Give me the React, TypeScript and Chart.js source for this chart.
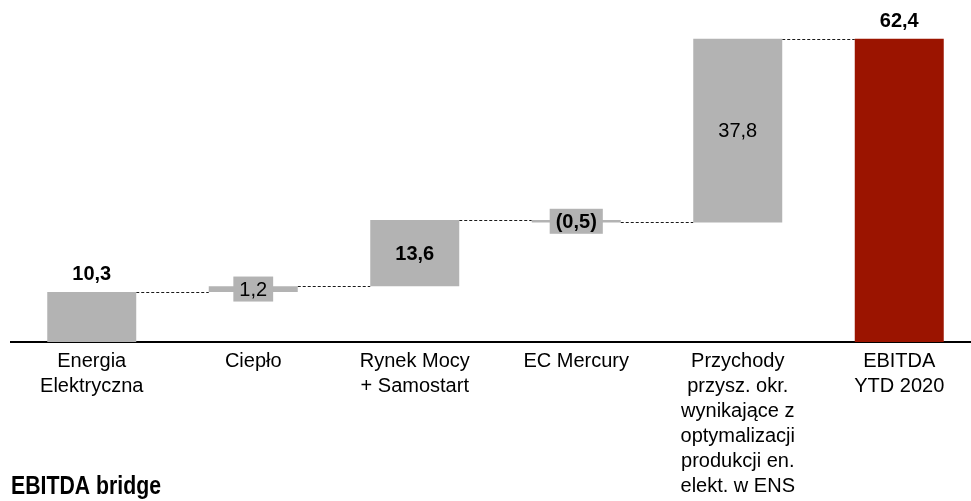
import React, { useEffect, useRef } from "react";
import { Chart, registerables } from "chart.js";

Chart.register(...registerables);

// ---- data ----
const categories: string[][] = [
  ["Energia", "Elektryczna"],
  ["Ciepło"],
  ["Rynek Mocy", "+ Samostart"],
  ["EC Mercury"],
  ["Przychody", "przysz. okr.", "wynikające z", "optymalizacji", "produkcji en.", "elekt. w ENS"],
  ["EBITDA", "YTD 2020"],
];
const deltas: number[] = [10.3, 1.2, 13.6, -0.5, 37.8];
const totalValue = 62.4;
const valueLabels: string[] = ["10,3", "1,2", "13,6", "(0,5)", "37,8", "62,4"];
const titleText = "EBITDA bridge";

// ---- styles ----
const labelModes = ["above", "box", "inside", "box", "inside", "above"];
const labelBold = [true, false, true, true, false, true];
const GREY = "#b3b3b3";
const RED = "#9b1400";
const FONT = '"Liberation Sans", Arial, Helvetica, sans-serif';

function buildRanges() {
  const ranges: [number, number][] = [];
  const levels: number[] = [];
  let cum = 0;
  for (const d of deltas) {
    const next = Math.round((cum + d) * 10) / 10;
    ranges.push([Math.min(cum, next), Math.max(cum, next)]);
    levels.push(next);
    cum = next;
  }
  ranges.push([0, totalValue]);
  return { ranges, levels };
}

export default function App() {
  const ref = useRef<HTMLCanvasElement | null>(null);
  useEffect(() => {
    if (!ref.current) return;
    const { ranges, levels } = buildRanges();
    const colors = ranges.map((_, i) => (i === ranges.length - 1 ? RED : GREY));

    const connectorPlugin = {
      id: "connectors",
      beforeDatasetsDraw(chart: any) {
        const ctx = chart.ctx;
        const meta = chart.getDatasetMeta(0);
        const y = chart.scales.y;
        ctx.save();
        ctx.strokeStyle = "#1a1a1a";
        ctx.lineWidth = 1;
        ctx.setLineDash([3, 2]);
        for (let i = 0; i < levels.length; i++) {
          const a = meta.data[i];
          const b = meta.data[i + 1];
          if (!a || !b) continue;
          const py = Math.round(y.getPixelForValue(levels[i])) + 0.5;
          ctx.beginPath();
          ctx.moveTo(a.x + a.width / 2, py);
          ctx.lineTo(b.x - b.width / 2, py);
          ctx.stroke();
        }
        ctx.restore();
      },
    };

    const labelPlugin = {
      id: "valueLabels",
      afterDatasetsDraw(chart: any) {
        const ctx = chart.ctx;
        const meta = chart.getDatasetMeta(0);
        ctx.save();
        ctx.textAlign = "center";
        ctx.textBaseline = "middle";
        meta.data.forEach((bar: any, i: number) => {
          const top = Math.min(bar.y, bar.base);
          const bottom = Math.max(bar.y, bar.base);
          const mid = (top + bottom) / 2;
          ctx.font = `${labelBold[i] ? "bold " : ""}20px ${FONT}`;
          const txt = valueLabels[i];
          let ty = mid;
          if (labelModes[i] === "above") {
            ty = top - 18;
          } else if (labelModes[i] === "box") {
            const w = ctx.measureText(txt).width + 12;
            const h = 25;
            ctx.fillStyle = GREY;
            ctx.fillRect(bar.x - w / 2, mid - h / 2, w, h);
          }
          ctx.fillStyle = "#000";
          ctx.fillText(txt, bar.x, ty + 1);
        });
        ctx.restore();
      },
      afterDraw(chart: any) {
        const ctx = chart.ctx;
        ctx.save();
        ctx.font = `bold 26px "Liberation Sans Narrow", "Arial Narrow", ${FONT}`;
        ctx.fillStyle = "#000";
        ctx.textAlign = "left";
        ctx.textBaseline = "alphabetic";
        const w = ctx.measureText(titleText).width;
        const target = 150;
        ctx.translate(11, 494);
        if (Math.abs(w - target) > 4) ctx.scale(target / w, 1);
        ctx.fillText(titleText, 0, 0);
        ctx.restore();
      },
    };

    const chart = new Chart(ref.current, {
      type: "bar",
      data: {
        labels: categories,
        datasets: [
          {
            data: ranges as any,
            backgroundColor: colors,
            borderWidth: 0,
            borderSkipped: false,
            barPercentage: 0.551,
            categoryPercentage: 1,
          },
        ],
      },
      options: {
        responsive: false,
        animation: false,
        devicePixelRatio: 1,
        layout: { padding: { left: 11, right: 0, top: 0, bottom: 0 } },
        plugins: {
          legend: { display: false },
          tooltip: { enabled: false },
          title: { display: false },
        },
        scales: {
          x: {
            grid: { display: false, drawTicks: false },
            border: { display: true, color: "#000", width: 2 },
            ticks: {
              color: "#000",
              font: { family: FONT, size: 20, lineHeight: 1.25 },
              padding: 7,
              maxRotation: 0,
              autoSkip: false,
            },
            afterFit: (scale: any) => {
              scale.height = 159;
            },
          },
          y: {
            display: false,
            min: 0,
            max: 70.4,
          },
        },
      },
      plugins: [connectorPlugin, labelPlugin],
    });
    return () => chart.destroy();
  }, []);

  return (
    <div
      style={{
        position: "fixed",
        left: 0,
        top: 0,
        width: 971,
        height: 501,
        overflow: "hidden",
        background: "#fff",
      }}
    >
      <canvas ref={ref} width={980} height={501} style={{ width: 980, height: 501, display: "block" }} />
    </div>
  );
}
